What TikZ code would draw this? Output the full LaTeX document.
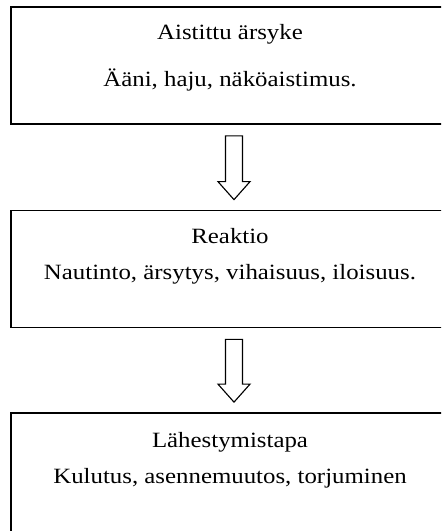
\documentclass[tikz,border=0pt]{standalone}
\usepackage{fontspec}
\setmainfont{Liberation Serif}[FakeStretch=1.14]
\usetikzlibrary{calc,positioning}

\tikzset{
  box/.style={draw, line width=1.2pt, minimum width=10.95cm, minimum height=2.925cm, inner sep=0pt},
  boxtext/.style={anchor=base, inner sep=0pt, font=\fontsize{15.5}{18}\selectfont},
  hollow/.style={draw, line width=0.8pt, line join=miter, fill=white}
}

\begin{document}
\begin{tikzpicture}[x=0.025cm, y=-0.025cm]
    \useasboundingbox (0,0) rectangle (441,531);
    \clip (0,0) rectangle (441,531);

    % --- boxes ---
    \node[box] (stimulus) at (230,65.5) {};
    \node[box] (reaction) at (230,269) {};
    \node[box, minimum height=3.2cm] (approach) at (230,477) {};

    % --- texts ---
    \node[boxtext] (stimtitle) at ($(stimulus.north)+(0,33)$) {Aistittu ärsyke};
    \node[boxtext] (stimlist)  at ($(stimulus.north)+(0,80)$) {Ääni, haju, näköaistimus.};
    \node[boxtext] (reactitle) at ($(reaction.north)+(0,34)$) {Reaktio};
    \node[boxtext] (reaclist)  at ($(reaction.north)+(0,70)$) {Nautinto, ärsytys, vihaisuus, iloisuus.};
    \node[boxtext] (apprtitle) at ($(approach.north)+(0,35)$) {Lähestymistapa};
    \node[boxtext] (apprlist)  at ($(approach.north)+(0,71)$) {Kulutus, asennemuutos, torjuminen};

    % --- hollow arrows ---
    \foreach \from/\to in {stimulus/reaction, reaction/approach} {
      \coordinate (tail) at ($(\from.south)+(4,11)$);
      \coordinate (tip) at ($(\to.north)+(4,-10)$);
      \draw[hollow] ($(tail)+(-8.5,0)$) -- ($(tail)+(8.5,0)$) -- ($(tip)+(8.5,-18)$)
        -- ($(tip)+(16,-18)$) -- (tip) -- ($(tip)+(-16,-18)$) -- ($(tip)+(-8.5,-18)$) -- cycle;
    }
\end{tikzpicture}
\end{document}
